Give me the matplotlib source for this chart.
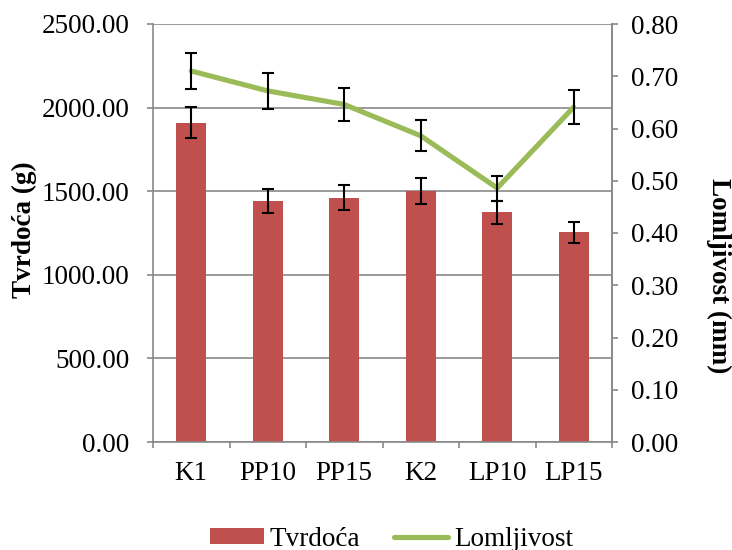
import matplotlib
matplotlib.use("Agg")
import matplotlib.pyplot as plt
import numpy as np
from matplotlib.lines import Line2D
from matplotlib.patches import Patch

categories = ["K1", "PP10", "PP15", "K2", "LP10", "LP15"]
tvrdoca = [1910, 1441, 1461, 1501, 1374, 1254]
tvrdoca_err = [93, 72, 75, 77, 68, 64]
lomljivost = [0.710, 0.672, 0.646, 0.586, 0.486, 0.641]
lomljivost_err = [0.035, 0.034, 0.032, 0.030, 0.024, 0.032]
left_ticks = [0, 500, 1000, 1500, 2000, 2500]
right_ticks = [0.0, 0.1, 0.2, 0.3, 0.4, 0.5, 0.6, 0.7, 0.8]

plt.rcParams["font.family"] = ["Liberation Serif", "DejaVu Serif"]
GRAY = "#898989"
BAR = "#C0504D"
LINE = "#9BBB59"
FS = 19.5

fig = plt.figure(figsize=(7.32, 5.5), dpi=100)
ax = fig.add_axes([153 / 732, 1 - 442 / 550, 459 / 732, 418 / 550])
x = np.arange(len(categories))

ax.set_axisbelow(True)
ax.bar(x, tvrdoca, width=0.39, color=BAR, zorder=2)
ax.errorbar(x, tvrdoca, yerr=tvrdoca_err, fmt="none", ecolor="black",
            elinewidth=1.5, capsize=4.3, capthick=1.5, zorder=3)
ax.set_xlim(-0.5, len(categories) - 0.5)
ax.set_ylim(0, 2500)
ax.set_yticks(left_ticks)
ax.set_yticklabels([f"{v:.2f}" for v in left_ticks])
ax.yaxis.grid(True, color=GRAY, linewidth=1.2)
ax.set_xticks(x)
ax.set_xticklabels(categories)
ax.set_xticks(np.arange(-0.5, len(categories), 1.0), minor=True)
ax.tick_params(axis="x", which="major", length=0, pad=14, labelsize=FS)
ax.tick_params(axis="x", which="minor", length=4.3, color=GRAY, width=1.2, direction="out")
ax.tick_params(axis="y", length=4.3, color=GRAY, width=1.2, labelsize=FS, pad=12.5)
for s in ax.spines.values():
    s.set_color(GRAY)
    s.set_linewidth(1.2)
ax.spines["top"].set_visible(False)
ax.set_ylabel("Tvrdoća (g)", fontsize=FS, fontweight="bold")
ax.yaxis.set_label_coords(-0.2527, 0.507)

ax2 = ax.twinx()
ax2.plot(x, lomljivost, color=LINE, linewidth=3.7, zorder=3, solid_capstyle="round")
ax2.errorbar(x, lomljivost, yerr=lomljivost_err, fmt="none", ecolor="black",
             elinewidth=1.5, capsize=4.3, capthick=1.5, zorder=4)
ax2.set_ylim(0, 0.8)
ax2.set_yticks(right_ticks)
ax2.set_yticklabels([f"{v:.2f}" for v in right_ticks])
ax2.tick_params(axis="y", length=4.3, color=GRAY, width=1.2, labelsize=FS, pad=9.4)
for s in ax2.spines.values():
    s.set_color(GRAY)
    s.set_linewidth(1.2)
ax2.spines["top"].set_visible(False)
ax2.spines["left"].set_visible(False)
ax2.spines["bottom"].set_visible(False)
ax2.set_ylabel("Lomljivost (mm)", fontsize=FS, fontweight="bold", rotation=270)
ax2.yaxis.label.set_verticalalignment("bottom")
ax2.yaxis.set_label_coords(1.205, 0.397)

handles = [Patch(facecolor=BAR, edgecolor="none"),
           Line2D([0], [0], color=LINE, linewidth=3.7, solid_capstyle="round")]
fig.legend(handles, ["Tvrdoća", "Lomljivost"], loc="center",
           bbox_to_anchor=(391.5 / 732, 1 - 539 / 550), ncol=2, frameon=False,
           fontsize=FS, handlelength=2.0, handleheight=0.5, columnspacing=1.25,
           handletextpad=0.22, borderpad=0.2)

fig.savefig("out.png", dpi=100)
